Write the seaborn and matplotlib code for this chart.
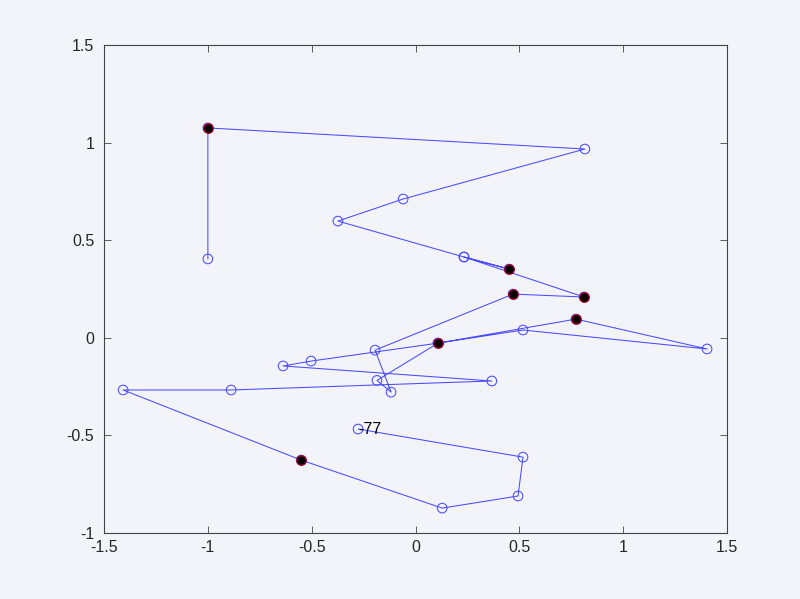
import matplotlib

matplotlib.use("Agg")
import matplotlib.pyplot as plt
import pandas as pd
import seaborn as sns

DPI = 100
BG = "#f3f4fa"

# path, in drawing order
path_x = [-1.0, -1.0, 0.815, -0.06, -0.374, 0.233, 0.45, 0.233, 0.811, 0.469,
          -0.195, -0.118, -0.186, 0.108, 0.772, 1.403, 0.517, 0.108, -0.503,
          -0.638, 0.367, -0.888, -1.408, -0.551, 0.128, 0.493, 0.517, -0.277]
path_y = [0.404, 1.075, 0.967, 0.711, 0.598, 0.414, 0.352, 0.414, 0.209, 0.224,
          -0.063, -0.278, -0.218, -0.027, 0.096, -0.057, 0.040, -0.027, -0.119,
          -0.144, -0.221, -0.267, -0.267, -0.626, -0.872, -0.810, -0.611, -0.467]

# highlighted points
hit_x = [-1.0, 0.45, 0.811, 0.469, 0.108, 0.772, -0.551]
hit_y = [1.075, 0.352, 0.209, 0.224, -0.027, 0.096, -0.626]

label_text = "-77"
x_ticks = [-1.5, -1, -0.5, 0, 0.5, 1, 1.5]
y_ticks = [-1, -0.5, 0, 0.5, 1, 1.5]

sns.set_style("ticks", {
    "axes.facecolor": BG,
    "figure.facecolor": BG,
    "axes.edgecolor": "#444444",
    "xtick.direction": "in",
    "ytick.direction": "in",
})
plt.rcParams["font.family"] = ["Liberation Sans", "DejaVu Sans"]
plt.rcParams["axes.unicode_minus"] = False

df = pd.DataFrame({"x": path_x, "y": path_y, "step": range(len(path_x))})
hits = pd.DataFrame({"x": hit_x, "y": hit_y})

fig = plt.figure(figsize=(8, 5.99), dpi=DPI)
ax = fig.add_axes([0.13, 0.11, 0.779, 0.815])

sns.lineplot(data=df, x="x", y="y", sort=False, estimator=None, ax=ax,
             color="#4a4aff", linewidth=0.75)
sns.scatterplot(data=df, x="x", y="y", ax=ax, s=48, marker="o",
                facecolor="none", edgecolor="#4a4aff", linewidth=0.75, zorder=3)
sns.scatterplot(data=hits, x="x", y="y", ax=ax, s=48, marker="o",
                color="black", edgecolor="#b00030", linewidth=0.9, zorder=4)

ax.text(path_x[-1], path_y[-1], label_text, ha="left", va="center",
        fontsize=11.5, color="black")

ax.set_xlim(-1.5, 1.5)
ax.set_ylim(-1, 1.5)
ax.set_xticks(x_ticks)
ax.set_yticks(y_ticks)
ax.set_xticklabels([f"{t:g}" for t in x_ticks])
ax.set_yticklabels([f"{t:g}" for t in y_ticks])
ax.set_xlabel("")
ax.set_ylabel("")
ax.tick_params(axis="both", labelsize=11.5, length=5, width=0.6, color="#444444",
               top=True, right=True)
ax.tick_params(axis="x", pad=5)
ax.tick_params(axis="y", pad=7)
for s in ax.spines.values():
    s.set_visible(True)
    s.set_linewidth(0.8)

fig.savefig("out.png", dpi=DPI, facecolor=BG)
